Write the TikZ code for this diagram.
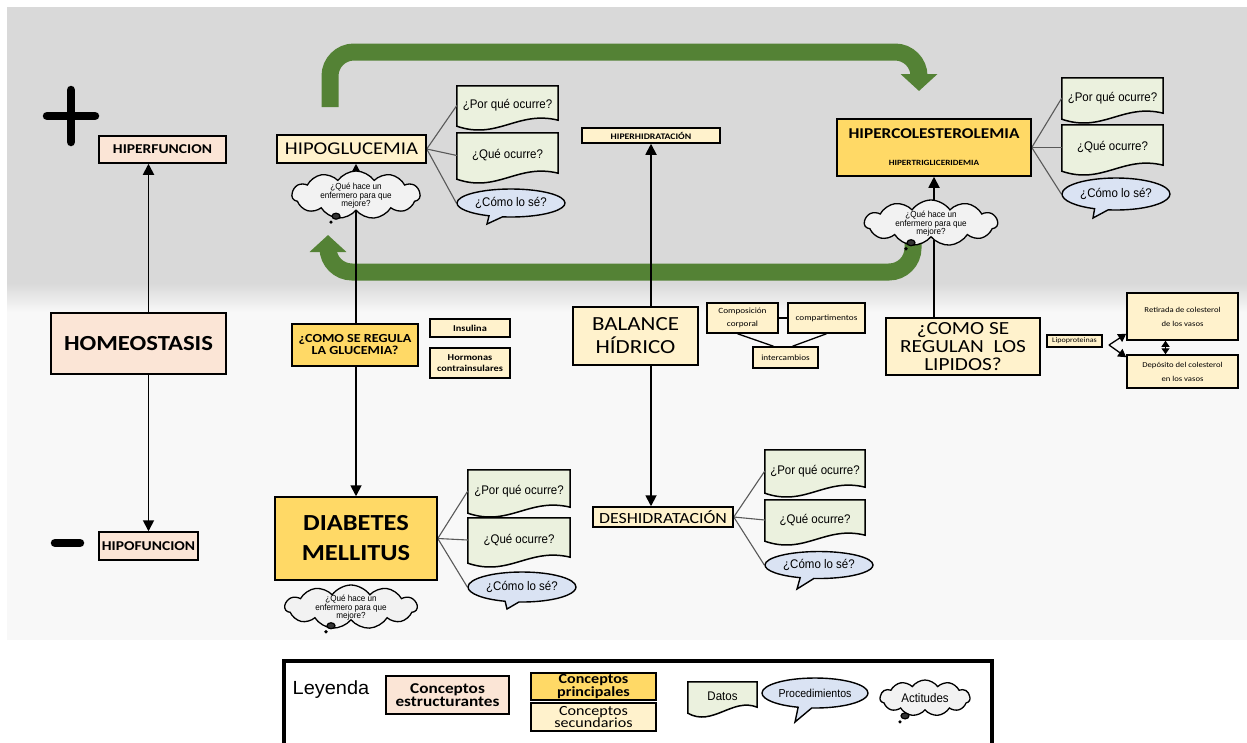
\documentclass[tikz,border=0pt]{standalone}
\usepackage{fontspec}
\setmainfont{Carlito}[FakeStretch=1.15]
\newfontfamily\qfont{Liberation Sans}[FakeStretch=0.92]
\newfontfamily\lfont{Liberation Sans}[FakeStretch=1.05]
\usetikzlibrary{shapes.symbols,shapes.callouts,arrows.meta,calc}

\definecolor{peach}{HTML}{FBE5D6}
\definecolor{gold}{HTML}{FFD966}
\definecolor{lyel}{HTML}{FFF2CC}
\definecolor{lgreen}{HTML}{EBF1DE}
\definecolor{lblue}{HTML}{DAE3F3}
\definecolor{cloudfill}{HTML}{F2F2F2}
\definecolor{loopgreen}{HTML}{548235}
\definecolor{bandgray}{HTML}{D9D9D9}
\definecolor{panel}{HTML}{F8F8F8}
\definecolor{qgray}{HTML}{595959}

\newcommand\setfs[2]{\fontsize{#1}{#2}\selectfont}

% wavy-bottom "data" outline drawn around a node
\newcommand\datashape[1]{%
  \path[datashape] (#1.north west) -- (#1.north east) -- ([yshift=5pt]#1.south east)
    .. controls ([xshift=10pt,yshift=15pt]#1.south) and ([xshift=-10pt,yshift=-15pt]#1.south)
    .. ([yshift=-1pt]#1.south west) -- cycle;}

% small thought bubbles under a cloud
\newcommand\thinkdots[1]{%
  \draw[line width=1.2pt,fill=black!80] ([shift={(-20pt,-5pt)}]#1.south) ellipse[x radius=4pt,y radius=3pt];
  \fill[black] ([shift={(-25pt,-11pt)}]#1.south) circle[radius=1.8pt];}

\pgfdeclarelayer{bg}
\pgfdeclarelayer{docs}
\pgfdeclarelayer{links}
\pgfsetlayers{bg,docs,links,main}

\begin{document}
\begin{tikzpicture}[x=1pt,y=-1pt,
  sz/.style 2 args={minimum width=#1pt,minimum height=#2pt},
  cbox/.style={rectangle,draw=black,line width=1.5pt,inner sep=0pt,align=center},
  estr/.style={cbox,fill=peach},
  princ/.style={cbox,fill=gold},
  secun/.style={cbox,fill=lyel},
  dato/.style={rectangle,inner sep=0pt,align=center,font=\qfont\setfs{12.5}{14}},
  how/.style={ellipse callout,draw=black,line width=1.4pt,fill=lblue,inner sep=0pt,font=\qfont\setfs{12.5}{14}},
  think/.style={cloud,cloud puffs=11,cloud puff arc=110,draw=black,line width=1.3pt,fill=cloudfill,inner sep=0pt},
  thinktext/.style={font=\qfont\setfs{8.8}{8.6},align=center,inner sep=0pt},
  link/.style={draw=black,line width=1.8pt,-{Triangle[length=11pt,width=11pt]}},
  solidline/.style={draw=black,line width=1.8pt},
  qline/.style={draw=qgray,line width=1.1pt},
  fineline/.style={draw=black,line width=1.3pt},
  finearrow/.style={fineline,-{Triangle[length=8pt,width=9pt]}},
  greenloop/.style={draw=loopgreen,line width=17pt,rounded corners=24pt,-{Triangle[length=17pt,width=36pt]}},
  datashape/.style={draw=black,line width=1.5pt,fill=lgreen},
  signbar/.style={line width=8.5pt,line cap=round}
]
\useasboundingbox (0,0) rectangle (1247,742);

% backdrop
\begin{pgfonlayer}{bg}
  \fill[white] (0,0) rectangle (1247,742);
  \fill[panel] (7,7) rectangle (1247,640);
  \fill[bandgray] (7,7) rectangle (1247,284);
  \shade[top color=bandgray,bottom color=panel] (7,283) rectangle (1247,312);
\end{pgfonlayer}

% plus and minus signs
\draw[signbar] (71,90) -- (71,142);
\draw[signbar] (47,116) -- (95,116);
\draw[signbar] (55,543) -- (80,543);

% homeostasis column
\node[estr,sz={127}{27},font=\bfseries\setfs{13.5}{14}] (hiperf) at (162.5,149.5) {HIPERFUNCION};
\node[estr,sz={175}{61},font=\bfseries\setfs{21.5}{22}] (homeo) at (138.5,343.5) {HOMEOSTASIS};
\node[estr,sz={99}{28},font=\bfseries\setfs{13.5}{14}] (hipof) at (148.5,546) {HIPOFUNCION};

% glucemia column
\node[secun,sz={149}{28},font=\setfs{18}{18}] (hipog) at (351.5,149) {HIPOGLUCEMIA};
\node[dato,sz={101}{39}] (pq1) at (507.5,105.5) {\raisebox{3pt}{¿Por qué ocurre?}};
\node[dato,sz={101}{45}] (q1) at (507.5,155.5) {\raisebox{3pt}{¿Qué ocurre?}};
\node[how,sz={108}{28},callout absolute pointer={(487,224)}] (c1) at (511,203) {¿Cómo lo sé?};
\node[think,sz={128}{48},label={[thinktext,yshift=-1pt]center:¿Qué hace un\\enfermero para que\\mejore?}] (k1) at (356,195) {};
\node[princ,sz={126}{42},font=\bfseries\setfs{12.3}{12}] (regg) at (355,345) {¿COMO SE REGULA\\LA GLUCEMIA?};
\node[secun,sz={80}{18},font=\bfseries\setfs{9}{11}] (insul) at (470,328) {Insulina};
\node[secun,sz={80}{30},font=\bfseries\setfs{9}{11}] (horm) at (470,363) {Hormonas\\contrainsulares};
\node[princ,sz={162}{83},font=\bfseries\setfs{23}{30}] (diab) at (356,538.5) {DIABETES\\MELLITUS};
\node[dato,sz={102}{42}] (pq2) at (519,491) {\raisebox{3pt}{¿Por qué ocurre?}};
\node[dato,sz={102}{44}] (q2) at (519,540) {\raisebox{3pt}{¿Qué ocurre?}};
\node[how,sz={108}{30},callout absolute pointer={(507,609)}] (c2) at (522,587) {¿Cómo lo sé?};
\node[think,sz={132}{44},label={[thinktext,yshift=-1pt]center:¿Qué hace un\\enfermero para que\\mejore?}] (k3) at (351,607) {};

% water balance column
\node[secun,sz={138}{15},font=\bfseries\setfs{8.5}{9}] (hiperh) at (651,135.5) {HIPERHIDRATACIÓN};
\node[secun,sz={125}{58},font=\setfs{20}{23}] (bal) at (635.5,336) {BALANCE\\HÍDRICO};
\node[secun,sz={140}{20},font=\setfs{15.5}{16}] (deshid) at (663,517) {DESHIDRATACIÓN};
\node[dato,sz={100}{42}] (pq3) at (815,471) {\raisebox{3pt}{¿Por qué ocurre?}};
\node[dato,sz={100}{40}] (q3) at (815,520) {\raisebox{3pt}{¿Qué ocurre?}};
\node[how,sz={108}{27},callout absolute pointer={(797,589)}] (c3) at (819,565) {¿Cómo lo sé?};
\node[secun,sz={71}{30},font=\setfs{8}{13}] (comp) at (742.5,318) {Composición\\corporal};
\node[secun,sz={77}{30},font=\setfs{8}{9}] (compart) at (826.5,318) {compartimentos};
\node[secun,sz={65}{21},font=\setfs{8}{9}] (interc) at (785.5,357.5) {intercambios};

% lipid column
\node[princ,sz={194}{57},font=\bfseries\setfs{15}{15}] (hcol) at (934,147.5) {HIPERCOLESTEROLEMIA\\[12pt]{\setfs{8}{8}HIPERTRIGLICERIDEMIA}};
\node[dato,sz={101}{40}] (pq4) at (1112.5,98) {\raisebox{3pt}{¿Por qué ocurre?}};
\node[dato,sz={101}{45}] (q4) at (1112.5,147.5) {\raisebox{3pt}{¿Qué ocurre?}};
\node[how,sz={108}{32},callout absolute pointer={(1093,218)}] (c4) at (1116,194) {¿Cómo lo sé?};
\node[think,sz={133}{46},label={[thinktext,yshift=-1pt]center:¿Qué hace un\\enfermero para que\\mejore?}] (k2) at (931,223) {};
\node[secun,sz={154}{57},font=\setfs{18.5}{18}] (lip) at (963,346.5) {¿COMO SE\\REGULAN\ \ LOS\\LIPIDOS?};
\node[secun,sz={55}{12},font=\setfs{7}{8}] (lipop) at (1074.5,341) {Lipoproteinas};
\node[secun,sz={111}{47},font=\setfs{7.5}{14}] (retir) at (1182.5,316.5) {Retirada de colesterol\\de los vasos};
\node[secun,sz={111}{33},font=\setfs{7.5}{14}] (depos) at (1182.5,371.5) {Depósito del colesterol\\en los vasos};

% legend
\draw[line width=4pt] (284,661) rectangle (992,770);
\node[font=\lfont\setfs{19}{19}] (ley) at (331,690) {Leyenda};
\node[estr,sz={123}{38},font=\bfseries\setfs{15}{13.5}] (lg1) at (447.5,695) {Conceptos\\estructurantes};
\node[princ,sz={125}{27},font=\bfseries\setfs{14}{10.5}] (lg2) at (593.5,686.5) {Conceptos\\principales};
\node[secun,sz={125}{28},font=\setfs{14}{10.5}] (lg3) at (593.5,717) {Conceptos\\secundarios};
\node[dato,sz={69}{30},font=\qfont\setfs{12.5}{14}] (lg4) at (722.5,697) {\raisebox{2pt}{Datos}};
\node[how,sz={106}{30},font=\qfont\setfs{11.5}{13},callout absolute pointer={(795,722)}] (lg5) at (815,693) {Procedimientos};
\node[think,sz={90}{36},label={[thinktext,font=\qfont\setfs{12.5}{13}]center:Actitudes}] (lg6) at (925,698) {};

% wavy data outlines
\begin{pgfonlayer}{docs}
  \datashape{pq1}\datashape{q1}
  \datashape{pq2}\datashape{q2}
  \datashape{pq3}\datashape{q3}
  \datashape{pq4}\datashape{q4}
  \datashape{lg4}
\end{pgfonlayer}

% thought bubbles
\thinkdots{k1}\thinkdots{k2}\thinkdots{k3}\thinkdots{lg6}

% all connectors sit beneath the shapes
\begin{pgfonlayer}{links}
  % green feedback loops
  \coordinate (g1s) at (330,107);
  \coordinate (g1a) at (330,52);
  \coordinate (g1b) at (919,52);
  \coordinate (g1e) at (919,91);
  \draw[greenloop] (g1s) -- (g1a) -- (g1b) -- (g1e);
  \coordinate (g2s) at (913,240);
  \coordinate (g2a) at (913,272);
  \coordinate (g2b) at (328,272);
  \coordinate (g2e) at (328,235);
  \draw[greenloop] (g2s) -- (g2a) -- (g2b) -- (g2e);

  % homeostasis connectors
  \draw[link] (hipof.north |- homeo.north) -- (hipof.north |- hiperf.south);
  \draw[link] (hipof.north |- homeo.south) -- (hipof.north);

  % glucemia connectors
  \draw[link] (k1.center) -- (k1.center |- hipog.south);
  \draw[solidline] (k1.center) -- (k1.center |- regg.north);
  \draw[link] (k1.center |- regg.south) -- (k1.center |- diab.north);
  \draw[qline] (hipog.east) -- (pq1.west);
  \draw[qline] (hipog.east) -- (q1.west);
  \draw[qline] (hipog.east) -- (c1.west);
  \draw[qline] (diab.east) -- (pq2.west);
  \draw[qline] (diab.east) -- (q2.west);
  \draw[qline] (diab.east) -- (c2.west);

  % water balance connectors
  \draw[link] (hiperh.south |- bal.north) -- (hiperh.south);
  \draw[link] (hiperh.south |- bal.south) -- (hiperh.south |- deshid.north);
  \draw[qline] (deshid.east) -- (pq3.west);
  \draw[qline] (deshid.east) -- (q3.west);
  \draw[qline] (deshid.east) -- (c3.west);
  \draw[fineline] (comp.east) -- (compart.west);
  \draw[fineline] ([xshift=-5pt]comp.south) -- ([xshift=-12pt]interc.north);
  \draw[fineline] (compart.south) -- ([xshift=7pt]interc.north);

  % lipid connectors
  \draw[link] (k2.center -| hcol.south) -- (hcol.south);
  \draw[solidline] (hcol.south |- lip.north) -- (hcol.south |- k2.center);
  \draw[qline] (hcol.east) -- (pq4.west);
  \draw[qline] (hcol.east) -- (q4.west);
  \draw[qline] (hcol.east) -- (c4.west);
  \coordinate (lv) at (1109,345);
  \draw[finearrow] (lv) -- ([yshift=7pt]retir.south west);
  \draw[finearrow] (lv) -- ([yshift=-3pt]depos.north west);
  \draw[fineline,{Triangle[length=6pt,width=8pt]}-{Triangle[length=6pt,width=8pt]}] ([xshift=-17pt]retir.south) -- ([xshift=-17pt]depos.north);
\end{pgfonlayer}
\end{tikzpicture}
\end{document}
